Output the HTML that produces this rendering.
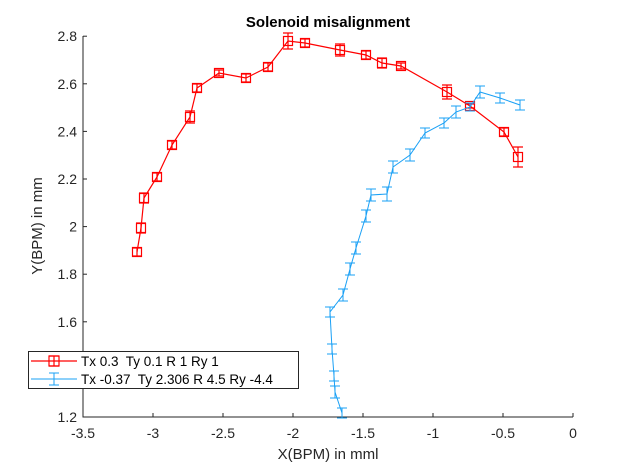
<!DOCTYPE html>
<html><head><meta charset="utf-8"><style>body{margin:0;background:#fff}svg{display:block;font-family:"Liberation Sans",sans-serif}text{white-space:pre}</style></head><body>
<svg id="s" width="634" height="470" xmlns="http://www.w3.org/2000/svg">
<rect width="634" height="470" fill="#fff"/>
<text x="328" y="27" text-anchor="middle" font-size="15" font-weight="bold" fill="#000">Solenoid misalignment</text>
<g id="ax" stroke="#262626" stroke-width="1" fill="none"><path d="M83,36V417H573"/></g>
<g id="t" font-size="14" fill="#262626"></g>
<text x="328" y="459" text-anchor="middle" font-size="15" fill="#262626">X(BPM) in mml</text>
<text transform="translate(42,226) rotate(-90)" text-anchor="middle" font-size="15" fill="#262626">Y(BPM) in mm</text>
<g id="red" stroke="#f00" fill="none" stroke-width="1.2"></g>
<g id="blue" stroke="#1aa0f5" fill="none" stroke-width="1"></g>
<rect x="28.5" y="351.5" width="270" height="37" fill="#fff" stroke="#262626"/>
<g font-size="13.5" fill="#000">
<text x="81" y="366">Tx 0.3  Ty 0.1 R 1 Ry 1</text>
<text x="81" y="384">Tx -0.37  Ty 2.306 R 4.5 Ry -4.4</text>
</g>
<g stroke="#f00" fill="none" stroke-width="1.2"><path d="M31,361H77M49,356H59M49,366H59M54,356V366"/><rect x="49" y="356" width="10" height="10"/></g>
<g stroke="#1aa0f5" fill="none"><path d="M31,379H77M49,373H59M49,385H59M54,373V385"/></g>
</svg>
<script>
var s='http://www.w3.org/2000/svg';
function el(p,t,a){var e=document.createElementNS(s,t);for(var k in a)e.setAttribute(k,a[k]);p.appendChild(e);return e}
var ax=document.getElementById('ax'),tg=document.getElementById('t');
var xl=['-3.5','-3','-2.5','-2','-1.5','-1','-0.5','0'];
for(var i=0;i<8;i++){var x=83+70*i;el(ax,'path',{d:'M'+x+',417v-4'});var t=el(tg,'text',{x:x,y:438,'text-anchor':'middle'});t.textContent=xl[i];}
var yl=['1.2','1.4','1.6','1.8','2','2.2','2.4','2.6','2.8'];
for(var i=0;i<9;i++){var y=417-47.6*i;el(ax,'path',{d:'M83,'+y+'h4'});var t=el(tg,'text',{x:77,y:y+5,'text-anchor':'end'});t.textContent=yl[i];}
var R=[[137,252,4],[141,228,5],[144,198,5],[157,177,4],[172,145,4],[190,117,6],[197,88,4],[219,73,3],[246,78,4],[268,67,4],[288,41,8],[305,43,4],[340,50,6],[366,55,4],[382,63,5],[401,66,3],[447,92,7],[470,106,2],[504,132,4],[518,157,10]];
var B=[[342,413,5],[335,392,6],[334,376,5],[332,349,5],[330,312,5],[343,295,6],[350,269,6],[356,248,6],[366,216,6],[371,195,6],[387,194,7],[393,167,6],[410,155,6],[425,133,5],[444,123,5],[456,112,6],[470,107,4],[480,92,6],[500,98,5],[520,105,5]];
function draw(g,P,sq){el(g,'polyline',{points:P.map(function(p){return p[0]+','+p[1]}).join(' ')});
P.forEach(function(p){var x=p[0],y=p[1],e=p[2];el(g,'path',{d:'M'+x+','+(y-e)+'V'+(y+e)+'M'+(x-5)+','+(y-e)+'h10M'+(x-5)+','+(y+e)+'h10'});if(sq)el(g,'rect',{x:x-4.5,y:y-4.5,width:9,height:9});});}
draw(document.getElementById('red'),R,true);draw(document.getElementById('blue'),B,false);
</script>
</body></html>
